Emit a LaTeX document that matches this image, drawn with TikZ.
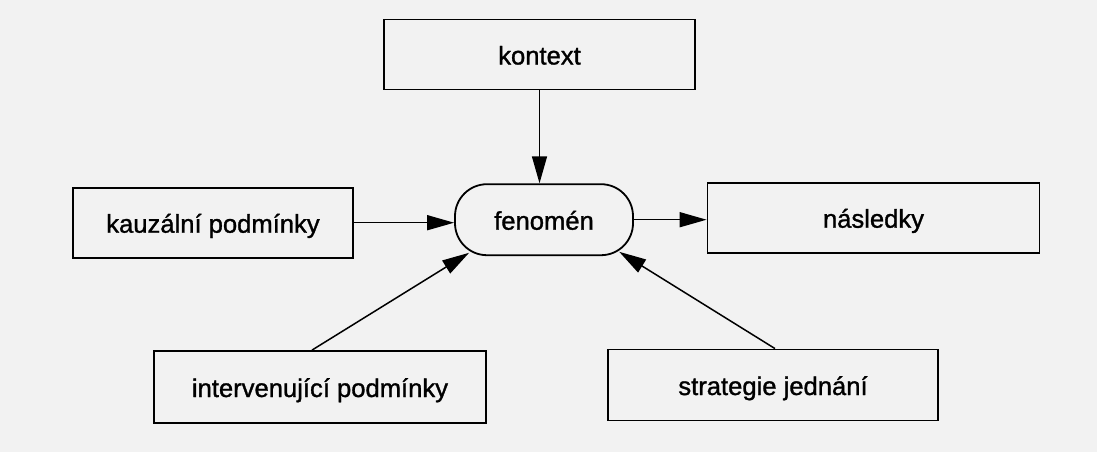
\documentclass[tikz,border=0pt]{standalone}
\usepackage{fontspec}
\setmainfont{Liberation Sans}[FakeBold=1.2]
\usetikzlibrary{arrows.meta}
\begin{document}
\begin{tikzpicture}[x=1pt,y=-1pt,
  box/.style={draw=black, line width=1.8pt, inner sep=0pt,
    text height=20pt, text depth=0pt,
    font=\fontsize{25.6}{30}\selectfont},
  pill/.style={box, rounded corners=32pt},
  arr/.style={line width=1.5pt, -{Triangle[length=27pt,width=15pt]}}]
\useasboundingbox[fill=black!5] (0,0) rectangle (1097,452);
\node[box, minimum width=311pt, minimum height=70pt] (kontext) at (539.5,54.5) {kontext};
\node[box, minimum width=280pt, minimum height=70pt] (kauzalni) at (213,222.7) {kauzální podmínky};
\node[pill, minimum width=178pt, minimum height=71pt] (fenomen) at (544,219.7) {fenomén};
\node[box, minimum width=332pt, minimum height=70pt] (nasledky) at (873.5,217.7) {následky};
\node[box, minimum width=332pt, minimum height=72pt] (interv) at (320,387) {intervenující podmínky};
\node[box, minimum width=330pt, minimum height=71pt] (strat) at (773,385) {strategie jednání};
\draw[arr] (kontext.south) -- (kontext.south |- fenomen.north);
\draw[arr] (kauzalni.east) -- (kauzalni.east -| fenomen.west);
\draw[arr] (fenomen.east) -- (fenomen.east -| nasledky.west);
\draw[arr] ([xshift=-8pt]interv.north) -- ([xshift=15pt,yshift=3.3pt]fenomen.south west);
\draw[arr] ([xshift=2pt]strat.north) -- ([xshift=-14.7pt,yshift=4.3pt]fenomen.south east);
\end{tikzpicture}
\end{document}
